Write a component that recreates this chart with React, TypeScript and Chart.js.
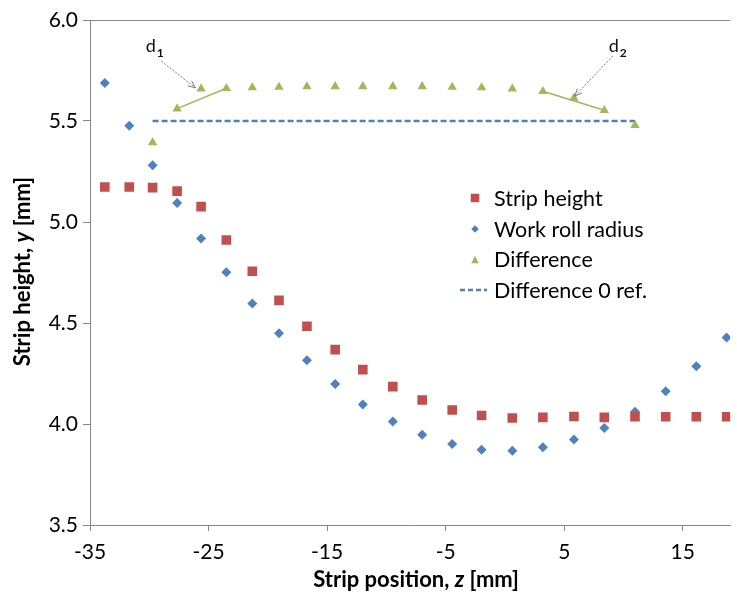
import React, { useEffect, useRef } from "react";
import { Chart, registerables } from "chart.js";

Chart.register(...registerables);

const FONT = "Lato, 'Liberation Sans', sans-serif";

// Strip position z [mm] of each sample
const positions = [
  -33.75, -31.69, -29.72, -27.65, -25.63, -23.5, -21.31, -19.06, -16.7, -14.32, -11.99,
  -9.46, -6.98, -4.45, -1.97, 0.62, 3.2, 5.82, 8.38, 10.97, 13.56, 16.14, 18.7,
];
const stripHeight = [
  5.173, 5.173, 5.17, 5.153, 5.076, 4.911, 4.756, 4.612, 4.484, 4.368, 4.269,
  4.185, 4.119, 4.069, 4.042, 4.03, 4.033, 4.037, 4.033, 4.036, 4.036, 4.036, 4.036,
];
const workRollRadius = [
  5.688, 5.477, 5.281, 5.094, 4.918, 4.751, 4.596, 4.449, 4.315, 4.198, 4.096,
  4.012, 3.947, 3.901, 3.873, 3.868, 3.885, 3.923, 3.98, 4.061, 4.162, 4.286, 4.428,
];
// Difference is defined on positions[2] .. positions[19]
const diffPositions = positions.slice(2, 20);
const difference = [
  5.393, 5.561, 5.66, 5.662, 5.665, 5.668, 5.67, 5.671, 5.671, 5.671, 5.671,
  5.668, 5.665, 5.66, 5.647, 5.614, 5.553, 5.479,
];
const zeroRef = 5.5;
const d1Link = [1, 3];
const d2Link = [14, 16];

const xTicks = [-35, -25, -15, -5, 5, 15];
const yTicks = [3.5, 4.0, 4.5, 5.0, 5.5, 6.0];

const seriesLabels = ["Strip height", "Work roll radius", "Difference", "Difference 0 ref."];
const xTitleParts = [
  { t: "Strip position, ", i: false },
  { t: "z", i: true },
  { t: " [mm]", i: false },
];
const yTitleParts = [
  { t: "Strip height, ", i: false },
  { t: "y", i: true },
  { t: " [mm]", i: false },
];

// annotation labels: text anchor, arrow start, arrow tip (data coordinates)
const annotationText = [
  { main: "d", sub: "1" },
  { main: "d", sub: "2" },
];
const annotationTextAt = [
  [-30.3, 5.844],
  [8.75, 5.844],
];
const annotationFrom = [
  [-28.97, 5.796],
  [9.08, 5.821],
];
const annotationTo = [
  [-26.1, 5.664],
  [5.88, 5.623],
];

const RED = "#C0504D";
const BLUE = "#4F81BD";
const GREEN = "#9BBB59";
const AXIS = "#868686";

function drawMixed(ctx: CanvasRenderingContext2D, parts: { t: string; i: boolean }[], cx: number, baseY: number, size: number) {
  const fontFor = (i: boolean) => `${i ? "italic " : ""}bold ${size}px ${FONT}`;
  let total = 0;
  for (const p of parts) {
    ctx.font = fontFor(p.i);
    total += ctx.measureText(p.t).width;
  }
  let x = cx - total / 2;
  ctx.textAlign = "left";
  ctx.textBaseline = "alphabetic";
  for (const p of parts) {
    ctx.font = fontFor(p.i);
    ctx.fillText(p.t, x, baseY);
    x += ctx.measureText(p.t).width;
  }
}

function marker(ctx: CanvasRenderingContext2D, kind: string, x: number, y: number, s: number, color: string) {
  ctx.fillStyle = color;
  ctx.beginPath();
  if (kind === "rect") {
    ctx.rect(x - s / 2, y - s / 2, s, s);
  } else if (kind === "diamond") {
    ctx.moveTo(x, y - s / 2);
    ctx.lineTo(x + s / 2, y);
    ctx.lineTo(x, y + s / 2);
    ctx.lineTo(x - s / 2, y);
    ctx.closePath();
  } else {
    ctx.moveTo(x, y - s / 2);
    ctx.lineTo(x + s / 2, y + s / 2);
    ctx.lineTo(x - s / 2, y + s / 2);
    ctx.closePath();
  }
  ctx.fill();
}

const overlay = {
  id: "overlay",
  afterDatasetsDraw(chart: any) {
    const ctx: CanvasRenderingContext2D = chart.ctx;
    const xs = chart.scales.x;
    const ys = chart.scales.y;
    ctx.save();
    annotationText.forEach((a, k) => {
      const tx = xs.getPixelForValue(annotationTextAt[k][0]);
      const ty = ys.getPixelForValue(annotationTextAt[k][1]);
      ctx.fillStyle = "#111";
      ctx.textAlign = "left";
      ctx.textBaseline = "alphabetic";
      ctx.font = `18px ${FONT}`;
      ctx.fillText(a.main, tx, ty);
      const w = ctx.measureText(a.main).width;
      ctx.font = `bold 12px ${FONT}`;
      ctx.fillText(a.sub, tx + w + 1, ty + 5);

      const x0 = xs.getPixelForValue(annotationFrom[k][0]);
      const y0 = ys.getPixelForValue(annotationFrom[k][1]);
      const x1 = xs.getPixelForValue(annotationTo[k][0]);
      const y1 = ys.getPixelForValue(annotationTo[k][1]);
      ctx.strokeStyle = "#7a7a7a";
      ctx.lineWidth = 1;
      ctx.setLineDash([2, 1.5]);
      ctx.beginPath();
      ctx.moveTo(x0, y0);
      ctx.lineTo(x1, y1);
      ctx.stroke();
      ctx.setLineDash([]);
      const ang = Math.atan2(y1 - y0, x1 - x0);
      const L = 8;
      ctx.beginPath();
      ctx.moveTo(x1 - L * Math.cos(ang - 0.4), y1 - L * Math.sin(ang - 0.4));
      ctx.lineTo(x1, y1);
      ctx.lineTo(x1 - L * Math.cos(ang + 0.4), y1 - L * Math.sin(ang + 0.4));
      ctx.stroke();
    });
    ctx.restore();
  },
  afterDraw(chart: any) {
    const ctx: CanvasRenderingContext2D = chart.ctx;
    const area = chart.chartArea;
    ctx.save();
    // top border
    ctx.strokeStyle = AXIS;
    ctx.lineWidth = 1;
    ctx.beginPath();
    ctx.moveTo(area.left, area.top + 0.5);
    ctx.lineTo(area.right, area.top + 0.5);
    ctx.stroke();

    // axis titles
    ctx.fillStyle = "#000";
    drawMixed(ctx, xTitleParts, area.left + (area.right - area.left) / 2 + 6, 587, 22);
    ctx.save();
    ctx.translate(30, (area.top + area.bottom) / 2 - 1);
    ctx.rotate(-Math.PI / 2);
    drawMixed(ctx, yTitleParts, 0, 0, 22);
    ctx.restore();

    // legend
    const lx = area.left + 385;
    const tx = area.left + 404;
    const rows = [198, 229, 259.5, 290];
    const kinds = ["rect", "diamond", "triangle"];
    const colors = [RED, BLUE, GREEN];
    ctx.font = `21.5px ${FONT}`;
    ctx.textAlign = "left";
    ctx.textBaseline = "alphabetic";
    seriesLabels.forEach((lab, i) => {
      const y = rows[i];
      if (i < 3) {
        marker(ctx, kinds[i], lx, y, i === 0 ? 8.5 : 7.5, colors[i]);
      } else {
        ctx.strokeStyle = BLUE;
        ctx.lineWidth = 2.5;
        ctx.setLineDash([5, 3]);
        ctx.beginPath();
        ctx.moveTo(lx - 15, y);
        ctx.lineTo(lx + 12, y);
        ctx.stroke();
        ctx.setLineDash([]);
      }
      ctx.fillStyle = "#000";
      ctx.fillText(lab, tx, y + 7.5);
    });
    ctx.restore();
  },
};

export default function App() {
  const ref = useRef<HTMLCanvasElement>(null);
  useEffect(() => {
    document.body.style.margin = "0";
    const canvas = ref.current!;
    const tickFont = { family: FONT, size: 21 };
    const chart = new Chart(canvas, {
      type: "scatter",
      data: {
        datasets: [
          {
            label: seriesLabels[0],
            data: positions.map((x, i) => ({ x, y: stripHeight[i] })),
            pointStyle: "rect",
            pointRadius: 6.8,
            pointBorderWidth: 0,
            backgroundColor: RED,
            borderColor: RED,
            showLine: false,
          },
          {
            label: seriesLabels[1],
            data: positions.map((x, i) => ({ x, y: workRollRadius[i] })),
            pointStyle: "rectRot",
            pointRadius: 5,
            pointBorderWidth: 0,
            backgroundColor: BLUE,
            borderColor: BLUE,
            showLine: false,
          },
          {
            label: seriesLabels[2],
            data: diffPositions.map((x, i) => ({ x, y: difference[i] })),
            pointStyle: "triangle",
            pointRadius: 5.4,
            pointBorderWidth: 0,
            backgroundColor: GREEN,
            borderColor: GREEN,
            showLine: false,
          },
          {
            label: seriesLabels[3],
            data: [
              { x: diffPositions[0], y: zeroRef },
              { x: diffPositions[diffPositions.length - 1], y: zeroRef },
            ],
            showLine: true,
            borderColor: BLUE,
            borderWidth: 2.5,
            borderDash: [6, 3],
            pointRadius: 0,
          },
          {
            label: "d1",
            data: d1Link.map((i) => ({ x: diffPositions[i], y: difference[i] })),
            showLine: true,
            borderColor: GREEN,
            borderWidth: 1.5,
            pointRadius: 0,
          },
          {
            label: "d2",
            data: d2Link.map((i) => ({ x: diffPositions[i], y: difference[i] })),
            showLine: true,
            borderColor: GREEN,
            borderWidth: 1.5,
            pointRadius: 0,
          },
        ],
      },
      options: {
        animation: false,
        responsive: false,
        devicePixelRatio: 1,
        events: [],
        layout: { padding: { top: 20, right: 0, left: 0, bottom: 0 } },
        plugins: { legend: { display: false }, tooltip: { enabled: false } },
        scales: {
          x: {
            type: "linear",
            min: -35,
            max: 19,
            afterBuildTicks: (s: any) => {
              s.ticks = xTicks.map((v) => ({ value: v }));
            },
            afterFit: (s: any) => {
              s.height = 69;
            },
            grid: { drawOnChartArea: false, drawTicks: true, tickLength: 6, color: AXIS },
            border: { display: true, color: AXIS, width: 1 },
            ticks: {
              font: tickFont,
              color: "#000",
              padding: 9,
              maxRotation: 0,
              autoSkip: false,
              callback: (v: any) => `${v}`,
            },
          },
          y: {
            type: "linear",
            min: 3.5,
            max: 6,
            afterBuildTicks: (s: any) => {
              s.ticks = yTicks.map((v) => ({ value: v }));
            },
            afterFit: (s: any) => {
              s.width = 90;
            },
            grid: { drawOnChartArea: false, drawTicks: true, tickLength: 7, color: AXIS },
            border: { display: true, color: AXIS, width: 1 },
            ticks: {
              font: tickFont,
              color: "#000",
              padding: 5,
              callback: (v: any) => Number(v).toFixed(1),
            },
          },
        },
      },
      plugins: [overlay],
    });
    return () => chart.destroy();
  }, []);
  return (
    <div style={{ width: 737, height: 594 }}>
      <canvas ref={ref} width={737} height={594} style={{ display: "block" }} />
    </div>
  );
}
